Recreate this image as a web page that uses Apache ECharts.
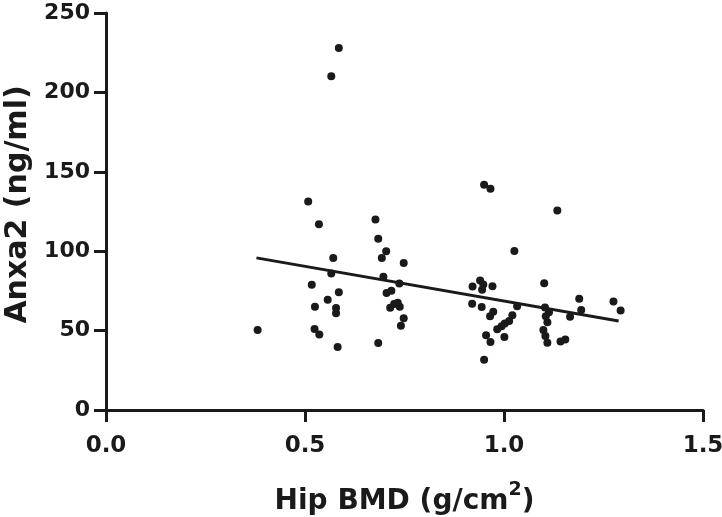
<!DOCTYPE html>
<html>
<head>
<meta charset="utf-8">
<script src="https://cdn.jsdelivr.net/npm/echarts@6/dist/echarts.min.js"></script>
<style>
html,body{margin:0;padding:0;background:#fff;}
#chart{width:722px;height:517px;}
</style>
</head>
<body>
<div id="chart"></div>
<script>
// Hip BMD (g/cm2) values
var bmd = [
  0.381, 0.508, 0.517, 0.524, 0.525, 0.535, 0.536, 0.557, 0.566, 0.566, 0.571, 0.578, 0.578, 0.582, 0.585, 0.585,
  0.677, 0.684, 0.684, 0.693, 0.697, 0.704, 0.705, 0.717, 0.714, 0.724, 0.733, 0.738, 0.737, 0.748, 0.748, 0.741,
  0.950, 0.966, 1.026, 0.921, 0.940, 0.948, 0.971, 0.945, 0.920, 0.944, 1.033, 0.973, 0.965, 1.021, 1.013, 1.002, 0.994, 0.983, 0.955, 0.966, 1.001, 0.950,
  1.134, 1.101, 1.189, 1.194, 1.275, 1.293, 1.166, 1.103, 1.113, 1.105, 1.109, 1.099, 1.104, 1.109, 1.142, 1.154
];
// Anxa2 (ng/ml) values
var anxa2 = [
  50.3, 131.3, 78.9, 51.0, 65.0, 116.9, 47.6, 69.4, 210.2, 85.9, 95.7, 64.2, 61.0, 39.6, 228.0, 74.2,
  120.0, 107.8, 42.2, 95.7, 83.9, 99.9, 73.7, 75.1, 64.4, 66.8, 67.6, 65.0, 79.7, 92.5, 57.8, 53.0,
  141.8, 139.3, 100.1, 77.8, 81.6, 79.0, 78.0, 75.8, 66.9, 64.9, 65.4, 61.8, 59.0, 59.7, 56.1, 54.4, 52.7, 50.8, 47.0, 42.8, 46.0, 31.7,
  125.6, 79.8, 70.0, 62.9, 68.4, 62.7, 58.7, 64.5, 61.5, 59.0, 55.3, 50.3, 46.6, 42.3, 43.2, 44.4
];
// Fitted regression line endpoints
var fitX = [0.378, 1.288];
var fitY = [95.8, 56.0];
var xTicks = [0, 0.5, 1.0, 1.5];
var yTicks = [0, 50, 100, 150, 200, 250];

var ink = '#1a1a1a';
var fontFam = '"DejaVu Sans", sans-serif';

var chart = echarts.init(document.getElementById('chart'), null, {renderer: 'canvas'});
var pts = bmd.map(function (v, i) { return [v, anxa2[i]]; });
var fit = fitX.map(function (v, i) { return [v, fitY[i]]; });

chart.setOption({
  animation: false,
  backgroundColor: '#fff',
  grid: {left: 106, right: 19, top: 13, bottom: 107, containLabel: false, outerBoundsMode: 'none'},
  xAxis: {
    type: 'value',
    min: xTicks[0], max: xTicks[xTicks.length - 1], interval: 0.5,
    name: 'Hip BMD (g/cm{sup|2})',
    nameLocation: 'middle',
    nameGap: 71,
    nameTextStyle: {
      color: ink, fontFamily: fontFam, fontWeight: 'bold', fontSize: 28,
      rich: {sup: {fontSize: 19, fontWeight: 'bold', fontFamily: fontFam, color: ink, verticalAlign: 'top', padding: [0, 0, 22, 0]}}
    },
    axisLine: {show: true, onZero: false, lineStyle: {color: ink, width: 3}},
    axisTick: {show: true, inside: false, length: 12, lineStyle: {color: ink, width: 3}},
    axisLabel: {
      color: ink, fontFamily: fontFam, fontWeight: 'bold', fontSize: 23, margin: 25,
      formatter: function (v) { return v.toFixed(1); }
    },
    splitLine: {show: false}
  },
  yAxis: {
    type: 'value',
    min: yTicks[0], max: yTicks[yTicks.length - 1], interval: 50,
    name: 'Anxa2 (ng/ml)',
    nameLocation: 'middle',
    nameGap: 73,
    nameRotate: 90,
    nameTextStyle: {color: ink, fontFamily: fontFam, fontWeight: 'bold', fontSize: 30, padding: [0, 0, 0, 14]},
    axisLine: {show: true, onZero: false, lineStyle: {color: ink, width: 3}},
    axisTick: {show: true, inside: false, length: 12, lineStyle: {color: ink, width: 3}},
    axisLabel: {color: ink, fontFamily: fontFam, fontWeight: 'bold', fontSize: 22, margin: 16},
    splitLine: {show: false}
  },
  series: [
    {
      type: 'scatter',
      data: pts,
      symbol: 'circle',
      symbolSize: 8,
      itemStyle: {color: ink, opacity: 1},
      z: 3
    },
    {
      type: 'line',
      data: fit,
      symbol: 'none',
      lineStyle: {color: ink, width: 3},
      z: 2
    }
  ]
});
</script>
</body>
</html>
